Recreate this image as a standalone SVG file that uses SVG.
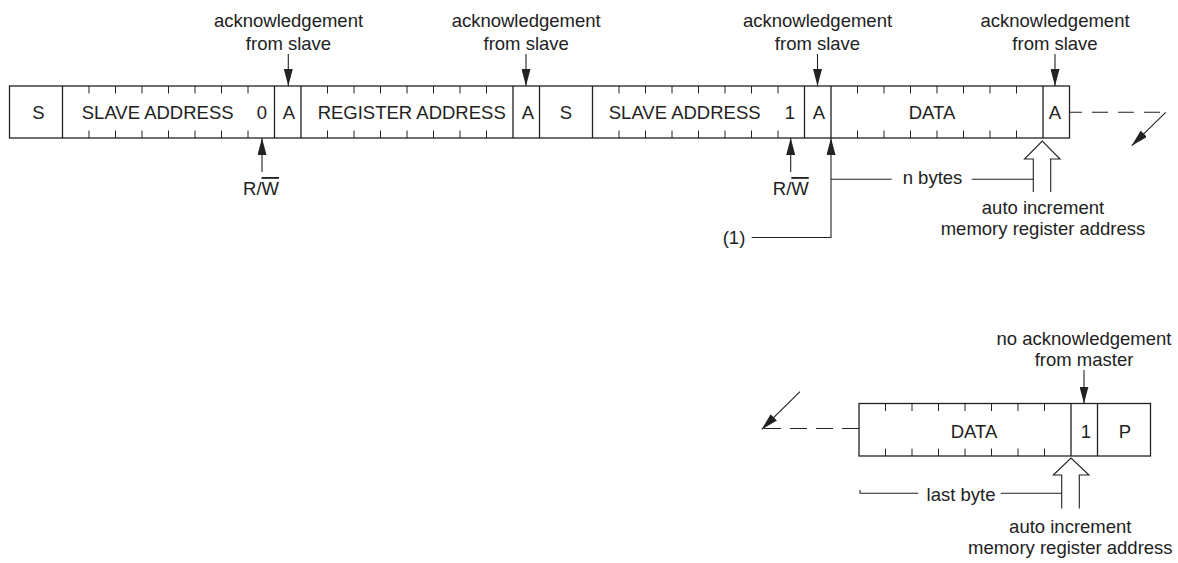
<svg xmlns="http://www.w3.org/2000/svg" width="1178" height="563" viewBox="0 0 1178 563">
<style>
  text { font-family: "Liberation Sans", Arial, Helvetica, sans-serif; font-size: 18.5px; fill: #222; }
  .c { text-anchor: middle; }
  .frame { fill: #fff; stroke: #222; stroke-width: 1.3; }
  .div { stroke: #222; stroke-width: 1.3; fill: none; }
  .tick { stroke: #222; stroke-width: 1; fill: none; }
  .ln { stroke: #222; stroke-width: 1.1; fill: none; }
  .dash { stroke: #222; stroke-width: 1.1; fill: none; }
  .hollow { stroke: #222; stroke-width: 1.1; fill: none; stroke-linejoin: miter; }
</style>
<defs>
  <marker id="ah" viewBox="0 0 17 9" markerWidth="17" markerHeight="9" refX="17" refY="4.5" orient="auto" markerUnits="userSpaceOnUse">
    <path d="M0,0 L17,4.5 L0,9 z" fill="#222"/>
  </marker>
</defs>

<!-- Top frame -->
<g id="frame-top">
  <rect class="frame" x="9.5" y="86" width="1060" height="52"/>
  <g id="cell-s1"><text class="c" x="38.5" y="118.5">S</text></g>
  <g id="cell-slave-address-1">
    <path class="tick" d="M89,86v7.5M115.5,86v7.5M142,86v7.5M168.5,86v7.5M195,86v7.5M221.5,86v7.5M248,86v7.5M89,130.5v7.5M115.5,130.5v7.5M142,130.5v7.5M168.5,130.5v7.5M195,130.5v7.5M221.5,130.5v7.5M248,130.5v7.5"/>
    <text class="c" x="157.7" y="118.5">SLAVE ADDRESS</text>
    <text class="c" x="262" y="118.5">0</text>
  </g>
  <g id="cell-a1"><text class="c" x="289" y="118.5">A</text></g>
  <g id="cell-register-address">
    <path class="tick" d="M327.5,86v7.5M354,86v7.5M380.5,86v7.5M407,86v7.5M433.5,86v7.5M460,86v7.5M486.5,86v7.5M327.5,130.5v7.5M354,130.5v7.5M380.5,130.5v7.5M407,130.5v7.5M433.5,130.5v7.5M460,130.5v7.5M486.5,130.5v7.5"/>
    <text class="c" x="411.7" y="118.5">REGISTER ADDRESS</text>
  </g>
  <g id="cell-a2"><text class="c" x="527.8" y="118.5">A</text></g>
  <g id="cell-s2"><text class="c" x="566" y="118.5">S</text></g>
  <g id="cell-slave-address-2">
    <path class="tick" d="M619,86v7.5M645.5,86v7.5M672,86v7.5M698.5,86v7.5M725,86v7.5M751.5,86v7.5M778,86v7.5M619,130.5v7.5M645.5,130.5v7.5M672,130.5v7.5M698.5,130.5v7.5M725,130.5v7.5M751.5,130.5v7.5M778,130.5v7.5"/>
    <text class="c" x="684.7" y="118.5">SLAVE ADDRESS</text>
    <text class="c" x="790" y="118.5">1</text>
  </g>
  <g id="cell-a3"><text class="c" x="818.8" y="118.5">A</text></g>
  <g id="cell-data-1">
    <path class="tick" d="M857.5,86v7.5M884,86v7.5M910.5,86v7.5M937,86v7.5M963.5,86v7.5M990,86v7.5M1016.5,86v7.5M857.5,130.5v7.5M884,130.5v7.5M910.5,130.5v7.5M937,130.5v7.5M963.5,130.5v7.5M990,130.5v7.5M1016.5,130.5v7.5"/>
    <text class="c" x="932" y="118.5">DATA</text>
  </g>
  <g id="cell-a4"><text class="c" x="1055" y="118.5">A</text></g>
  <path class="div" d="M62.5,86V138M274.5,86V138M301,86V138M513,86V138M539.5,86V138M592.5,86V138M804.5,86V138M831,86V138M1043,86V138"/>
</g>

<!-- Bottom frame -->
<g id="frame-bottom">
  <rect class="frame" x="859" y="403.5" width="291.5" height="52.5"/>
  <g id="cell-data-2">
    <path class="tick" d="M885.5,403.5v7.5M912,403.5v7.5M938.5,403.5v7.5M965,403.5v7.5M991.5,403.5v7.5M1018,403.5v7.5M1044.5,403.5v7.5M885.5,448.5v7.5M912,448.5v7.5M938.5,448.5v7.5M965,448.5v7.5M991.5,448.5v7.5M1018,448.5v7.5M1044.5,448.5v7.5"/>
    <text class="c" x="974" y="437.5">DATA</text>
  </g>
  <g id="cell-nack"><text class="c" x="1086" y="437.5">1</text></g>
  <g id="cell-p"><text class="c" x="1125" y="437.5">P</text></g>
  <path class="div" d="M1071,403.5V456M1097.5,403.5V456"/>
</g>

<!-- Labels -->
<g id="label-ack1"><text class="c" x="288.5" y="27">acknowledgement</text><text class="c" x="288.5" y="49.5">from slave</text></g>
<g id="label-ack2"><text class="c" x="526.2" y="27">acknowledgement</text><text class="c" x="526.2" y="49.5">from slave</text></g>
<g id="label-ack3"><text class="c" x="817.5" y="27">acknowledgement</text><text class="c" x="817.5" y="49.5">from slave</text></g>
<g id="label-ack4"><text class="c" x="1055" y="27">acknowledgement</text><text class="c" x="1055" y="49.5">from slave</text></g>
<g id="label-rw1"><text class="c" x="261" y="195">R/<tspan text-decoration="overline">W</tspan></text></g>
<g id="label-rw2"><text class="c" x="790.8" y="195">R/<tspan text-decoration="overline">W</tspan></text></g>
<g id="label-nbytes"><text class="c" x="932.5" y="184">n bytes</text></g>
<g id="label-note1"><text class="c" x="734" y="244">(1)</text></g>
<g id="label-autoinc1"><text class="c" x="1043" y="214.3">auto increment</text><text class="c" x="1043" y="235">memory register address</text></g>
<g id="label-nack"><text class="c" x="1084" y="345">no acknowledgement</text><text class="c" x="1084" y="366">from master</text></g>
<g id="label-lastbyte"><text class="c" x="961" y="500.7">last byte</text></g>
<g id="label-autoinc2"><text class="c" x="1070.3" y="533.3">auto increment</text><text class="c" x="1070.3" y="554">memory register address</text></g>

<!-- Connectors -->
<g id="connectors">
  <path class="ln" d="M288.3,54V86" marker-end="url(#ah)"/>
  <path class="ln" d="M526,54V86" marker-end="url(#ah)"/>
  <path class="ln" d="M817.5,54V86" marker-end="url(#ah)"/>
  <path class="ln" d="M1055,54V86" marker-end="url(#ah)"/>
  <path class="ln" d="M262,172V138" marker-end="url(#ah)"/>
  <path class="ln" d="M790.7,172V138" marker-end="url(#ah)"/>
  <path class="ln" d="M751.7,237.5H831V138" marker-end="url(#ah)"/>
  <path class="ln" d="M831,179.3H891.7M971.7,179.3H1033.3"/>
  <path class="hollow" d="M1033.3,192V159H1024.5L1042.3,141L1060,159H1050.7V192"/>
  <path class="dash" d="M1069.5,112.3H1160" stroke-dasharray="16 10" stroke-dashoffset="3.5"/>
  <path class="ln" d="M1165.7,112.3L1131.7,145.7" marker-end="url(#ah)"/>
  <path class="ln" d="M1084,370V403.5" marker-end="url(#ah)"/>
  <path class="dash" d="M859,428.5H762" stroke-dasharray="17 9"/>
  <path class="ln" d="M800,391.7L761.7,429.3" marker-end="url(#ah)"/>
  <path class="hollow" d="M1061.7,508.5V475H1053.3L1071,458L1089,475H1079.3V508.5"/>
  <path class="ln" d="M860,490V493.3H918.3M1000.7,493.3H1061.7"/>
</g>
</svg>
